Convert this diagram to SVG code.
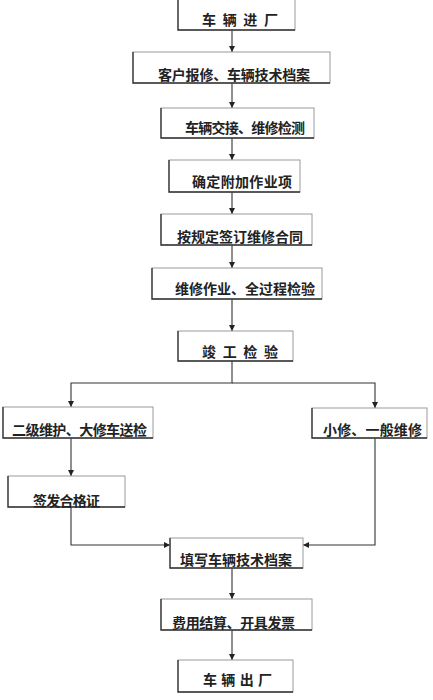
<svg xmlns="http://www.w3.org/2000/svg" width="433" height="700" viewBox="0 0 433 700">
<defs>
<style>
.bx{fill:#fff;stroke:#9a9a9a;stroke-width:1}
.ed{fill:none;stroke:#333;stroke-width:1.3}
.t{font-family:"Noto Sans CJK SC","Noto Sans",sans-serif;font-size:14px;font-weight:bold;fill:#222}
.c{fill:none;stroke:#333;stroke-width:1.1}
</style>
<marker id="ah" markerWidth="7" markerHeight="7" refX="6" refY="3" orient="auto" markerUnits="userSpaceOnUse">
<path d="M0,0 L6,3 L0,6 Z" fill="#222"/>
</marker>
</defs>
<rect width="433" height="700" fill="#fff"/>
<g id="connectors">
<path class="c" d="M232 30 V52" marker-end="url(#ah)"/>
<path class="c" d="M232 83 V108" marker-end="url(#ah)"/>
<path class="c" d="M232 138 V160" marker-end="url(#ah)"/>
<path class="c" d="M232 192 V214" marker-end="url(#ah)"/>
<path class="c" d="M232 245 V268" marker-end="url(#ah)"/>
<path class="c" d="M232 299 V331" marker-end="url(#ah)"/>
<path class="c" d="M232 361 V383 H71 V407" marker-end="url(#ah)"/>
<path class="c" d="M232 383 H375 V408" marker-end="url(#ah)"/>
<path class="c" d="M71 438 V476" marker-end="url(#ah)"/>
<path class="c" d="M71 507 V545 H170" marker-end="url(#ah)"/>
<path class="c" d="M375 438 V545 H303" marker-end="url(#ah)"/>
<path class="c" d="M232 568 V599" marker-end="url(#ah)"/>
<path class="c" d="M232 630 V660" marker-end="url(#ah)"/>
</g>
<g id="n1"><rect class="bx" x="178" y="-2" width="117" height="32"/><path class="ed" d="M178 -2 V30 H295"/><text class="t" x="202" y="25" textLength="76" lengthAdjust="spacing">车 辆 进 厂</text></g>
<g id="n2"><rect class="bx" x="133" y="52" width="197" height="31"/><path class="ed" d="M133 52 V83 H330"/><text class="t" x="158" y="80" textLength="152" lengthAdjust="spacing">客户报修、车辆技术档案</text></g>
<g id="n3"><rect class="bx" x="161" y="108" width="153" height="30"/><path class="ed" d="M161 108 V138 H314"/><text class="t" x="185" y="133" textLength="120" lengthAdjust="spacing">车辆交接、维修检测</text></g>
<g id="n4"><rect class="bx" x="169" y="160" width="131" height="32"/><path class="ed" d="M169 160 V192 H300"/><text class="t" x="192" y="187" textLength="100" lengthAdjust="spacing">确定附加作业项</text></g>
<g id="n5"><rect class="bx" x="161" y="214" width="151" height="31"/><path class="ed" d="M161 214 V245 H312"/><text class="t" x="177" y="242" textLength="126" lengthAdjust="spacing">按规定签订维修合同</text></g>
<g id="n6"><rect class="bx" x="152" y="268" width="170" height="31"/><path class="ed" d="M152 268 V299 H322"/><text class="t" x="175" y="294" textLength="140" lengthAdjust="spacing">维修作业、全过程检验</text></g>
<g id="n7"><rect class="bx" x="178" y="331" width="115" height="30"/><path class="ed" d="M178 331 V361 H293"/><text class="t" x="202" y="357" textLength="76" lengthAdjust="spacing">竣 工 检 验</text></g>
<g id="n8"><rect class="bx" x="3" y="407" width="150" height="31"/><path class="ed" d="M3 407 V438 H153"/><text class="t" x="12" y="435" textLength="135" lengthAdjust="spacing">二级维护、大修车送检</text></g>
<g id="n9"><rect class="bx" x="312" y="408" width="115" height="30"/><path class="ed" d="M312 408 V438 H427"/><text class="t" x="323" y="435" textLength="99" lengthAdjust="spacing">小修、一般维修</text></g>
<g id="n10"><rect class="bx" x="8" y="476" width="117" height="31"/><path class="ed" d="M8 476 V507 H125"/><text class="t" x="33" y="506" textLength="67" lengthAdjust="spacing">签发合格证</text></g>
<g id="n11"><rect class="bx" x="170" y="538" width="133" height="30"/><path class="ed" d="M170 538 V568 H303"/><text class="t" x="180" y="565" textLength="112" lengthAdjust="spacing">填写车辆技术档案</text></g>
<g id="n12"><rect class="bx" x="161" y="599" width="151" height="31"/><path class="ed" d="M161 599 V630 H312"/><text class="t" x="172" y="628" textLength="123" lengthAdjust="spacing">费用结算、开具发票</text></g>
<g id="n13"><rect class="bx" x="178" y="660" width="115" height="32"/><path class="ed" d="M178 660 V692 H293"/><text class="t" x="203" y="685" textLength="69" lengthAdjust="spacing">车 辆 出 厂</text></g>
</svg>
